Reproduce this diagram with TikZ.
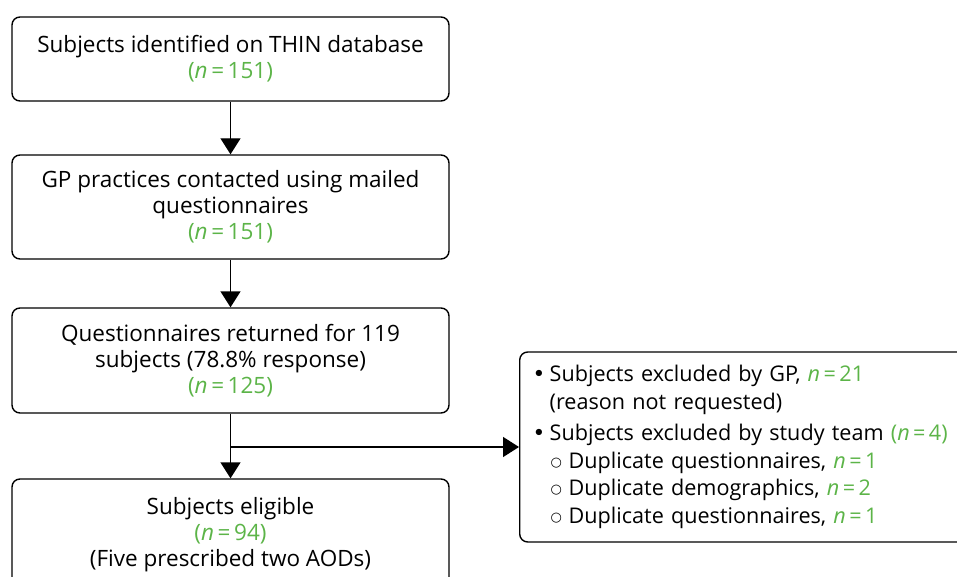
\documentclass[tikz,border=0pt]{standalone}
\usepackage{fontspec}
\setmainfont{Open Sans}
\newfontfamily\symfont{DejaVu Sans}
\usetikzlibrary{arrows.meta}
\definecolor{ngreen}{RGB}{92,180,72}
\newcommand{\eqsp}{\hspace{0.16em}=\hspace{0.16em}}
\newcommand{\nval}[1]{\textcolor{ngreen}{\textit{n}\eqsp#1}}
\newcommand{\npar}[1]{\textcolor{ngreen}{(\textit{n}\eqsp#1)}}
\newcommand{\mainbul}{\hspace*{-3pt}\makebox[17pt][l]{{\symfont\char"2022}}}
\newcommand{\subbul}{\hspace*{15pt}\makebox[18pt][l]{\raisebox{2pt}{\fontsize{13}{13}\symfont\char"25CB}}}

\begin{document}
\begin{tikzpicture}[x=1pt,y=-1pt,
  box/.style={draw, line width=1.4pt, rounded corners=8pt, align=center,
    font=\fontsize{22.5}{26}\selectfont, inner sep=0pt, minimum width=437pt},
  flow/.style={line width=1.4pt, -{Triangle[width=20pt,length=16pt]}}]

\useasboundingbox (0,0) rectangle (957,577);
\clip (0,0) rectangle (957,577);

% main column
\node[box, minimum height=84pt]  (b1) at (230.5,59)  {Subjects identified on THIN database\\ \npar{151}};
\node[box, minimum height=104pt] (b2) at (230.5,207) {GP practices contacted using mailed\\ questionnaires\\ \npar{151}};
\node[box, minimum height=105pt] (b3) at (230.5,360.5) {Questionnaires returned for 119\\ subjects (78.8\% response)\\ \npar{125}};
\node[box, minimum height=112pt] (b4) at (230.5,535) {Subjects eligible\\ \npar{94}\\ (Five prescribed two AODs)};

% exclusions
\node[box, anchor=west, minimum width=470pt, minimum height=190pt, align=left,
      text width=440pt, inner xsep=16pt,
      font=\fontsize{21.6}{27.5}\selectfont] (ex) at (519,447)
  {\mainbul Subjects excluded by GP, \nval{21}\\
   \hspace*{14pt}(reason not requested)\\[4pt]
   \mainbul Subjects excluded by study team \npar{4}\\
   \subbul Duplicate questionnaires, \nval{1}\\
   \subbul Duplicate demographics, \nval{2}\\
   \subbul Duplicate questionnaires, \nval{1}};

% connectors
\draw[flow] (b1) -- (b2);
\draw[flow] (b2) -- (b3);
\draw[flow] (b3) -- (b4);
\coordinate (split) at (230.5,447);
\draw[flow] (split) -- (ex.west);
\end{tikzpicture}
\end{document}
